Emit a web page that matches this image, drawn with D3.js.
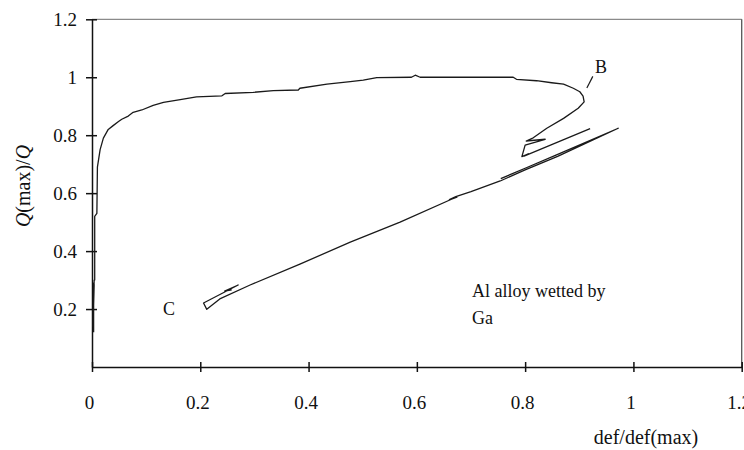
<!DOCTYPE html>
<head>
  <meta charset="utf-8">
  <style>
    body { margin: 0; background: #fff; }
    text { font-family: "Liberation Serif", "Times New Roman", serif; fill: #111; }
  </style>
</head>
<body>
  <div id="chart"></div>
  <script src="https://d3js.org/d3.v7.min.js"></script>
  <script>

    // def/def(max) and Q(max)/Q along the test, null = gap in the record
    var defRatio = [0.003, 0.003, 0.002, 0.004, 0.002, 0.004, 0.005, 0.005, 0.009, 0.010,
      0.015, 0.021, 0.030, 0.039, 0.049, 0.055, 0.067, 0.076, 0.092, 0.113,
      0.132, 0.163, 0.193, 0.240, 0.246, 0.298, 0.335, 0.381, 0.384, 0.434,
      0.477, 0.501, 0.526, 0.590, 0.597, 0.606, 0.778, 0.784, 0.821, 0.849,
      0.871, 0.889, 0.901, 0.907, 0.909, 0.898, 0.871, 0.840, 0.815, 0.802,
      0.837, 0.800, 0.794, 0.806, 0.798, 0.920, null,
      0.755, 0.800, 0.858, 0.972, 0.860, 0.800, 0.754, 0.700, 0.672, 0.660,
      0.674, 0.664, 0.569, 0.477, 0.384, 0.292, 0.236, 0.212, 0.206, 0.270,
      0.245, 0.258]
    var qRatio = [0.120, 0.290, 0.140, 0.285, 0.150, 0.300, 0.300, 0.520, 0.530, 0.690,
      0.750, 0.790, 0.820, 0.833, 0.847, 0.855, 0.866, 0.879, 0.887, 0.903,
      0.913, 0.923, 0.932, 0.936, 0.944, 0.948, 0.954, 0.956, 0.962, 0.976,
      0.985, 0.990, 0.999, 1.000, 1.007, 1.000, 1.000, 0.993, 0.988, 0.981,
      0.976, 0.962, 0.950, 0.935, 0.915, 0.893, 0.858, 0.824, 0.791, 0.780,
      0.786, 0.766, 0.726, 0.736, 0.728, 0.823, null,
      0.650, 0.686, 0.732, 0.824, 0.727, 0.680, 0.642, 0.605, 0.588, 0.578,
      0.586, 0.579, 0.500, 0.431, 0.355, 0.283, 0.235, 0.199, 0.221, 0.283,
      0.262, 0.266]

    var xTicks = [0, 0.2, 0.4, 0.6, 0.8, 1, 1.2]
    var yTicks = [0.2, 0.4, 0.6, 0.8, 1, 1.2]

    // annotations: [text, x, y] in data units
    var notes = [["B", 0.929, 1.015], ["C", 0.131, 0.179],
      ["Al alloy wetted by", 0.702, 0.243], ["Ga", 0.702, 0.150]]
    var leader = [[0.925, 1.003], [0.914, 0.963]]

    var width = 744, height = 450

    var svg = d3.select("#chart").append("svg")
      .attr("width", width)
      .attr("height", height)

    var x = d3.scaleLinear().domain([0, 1.2]).range([92, 741.7])
    var y = d3.scaleLinear().domain([0, 1.2]).range([367, 19.3])

    // frame top and right
    svg.append("line")
      .attr("x1", x(0)).attr("x2", x(1.2))
      .attr("y1", y(1.2)).attr("y2", y(1.2))
      .style("stroke", "#8a8a8a").style("stroke-width", 1.3)
    svg.append("line")
      .attr("x1", x(1.2)).attr("x2", x(1.2))
      .attr("y1", y(1.2)).attr("y2", y(0))
      .style("stroke", "#555").style("stroke-width", 1.3)

    var xAxis = svg.append("g")
      .attr("transform", "translate(0," + y(0) + ")")
      .call(d3.axisBottom(x).tickValues(xTicks).tickFormat(d3.format("")).tickSize(0).tickPadding(0))
    xAxis.select(".domain").style("stroke", "#111").style("stroke-width", 1.5)
    xAxis.selectAll(".tick").append("line")
      .attr("y1", -5).attr("y2", 5)
      .style("stroke", "#111").style("stroke-width", 1.5)
    xAxis.selectAll(".tick text")
      .attr("y", 42).attr("dy", 0).attr("dx", -3)
      .style("font-size", "19px").style("font-family", "Liberation Serif").style("fill", "#111")

    var yAxis = svg.append("g")
      .attr("transform", "translate(" + x(0) + ",0)")
      .call(d3.axisLeft(y).tickValues(yTicks).tickFormat(d3.format("")).tickSize(0).tickPadding(15))
    yAxis.select(".domain").style("stroke", "#111").style("stroke-width", 1.5)
    yAxis.selectAll(".tick").append("line")
      .attr("x1", -6).attr("x2", 5)
      .style("stroke", "#111").style("stroke-width", 1.5)
    yAxis.selectAll(".tick text")
      .attr("dy", "0.34em")
      .style("font-size", "19px").style("font-family", "Liberation Serif").style("fill", "#111")

    // the curve
    var points = defRatio.map(function(d, i) { return [d, qRatio[i]] })
    var line = d3.line()
      .defined(function(d) { return d[0] != null && d[1] != null })
      .x(function(d) { return x(d[0]) })
      .y(function(d) { return y(d[1]) })

    svg.append("path")
      .datum(points)
      .attr("d", line)
      .style("fill", "none")
      .style("stroke", "#1a1a1a")
      .style("stroke-width", 1.3)
      .style("stroke-linejoin", "round")

    // labels on the plot
    svg.selectAll(".note")
      .data(notes)
      .enter().append("text")
        .attr("class", "note")
        .attr("x", function(d) { return x(d[1]) })
        .attr("y", function(d) { return y(d[2]) })
        .style("font-size", "18px")
        .text(function(d) { return d[0] })

    svg.append("line")
      .attr("x1", x(leader[0][0])).attr("y1", y(leader[0][1]))
      .attr("x2", x(leader[1][0])).attr("y2", y(leader[1][1]))
      .style("stroke", "#1a1a1a").style("stroke-width", 1.2)

    // axis titles
    svg.append("text")
      .attr("x", 646).attr("y", 444)
      .attr("text-anchor", "middle")
      .style("font-size", "20px")
      .text("def/def(max)")

    var yTitle = svg.append("text")
      .attr("transform", "translate(30,186) rotate(-90)")
      .attr("text-anchor", "middle")
      .style("font-size", "20px")
    yTitle.append("tspan").style("font-style", "italic").text("Q")
    yTitle.append("tspan").text("(max)/")
    yTitle.append("tspan").style("font-style", "italic").text("Q")

  </script>
</body>
